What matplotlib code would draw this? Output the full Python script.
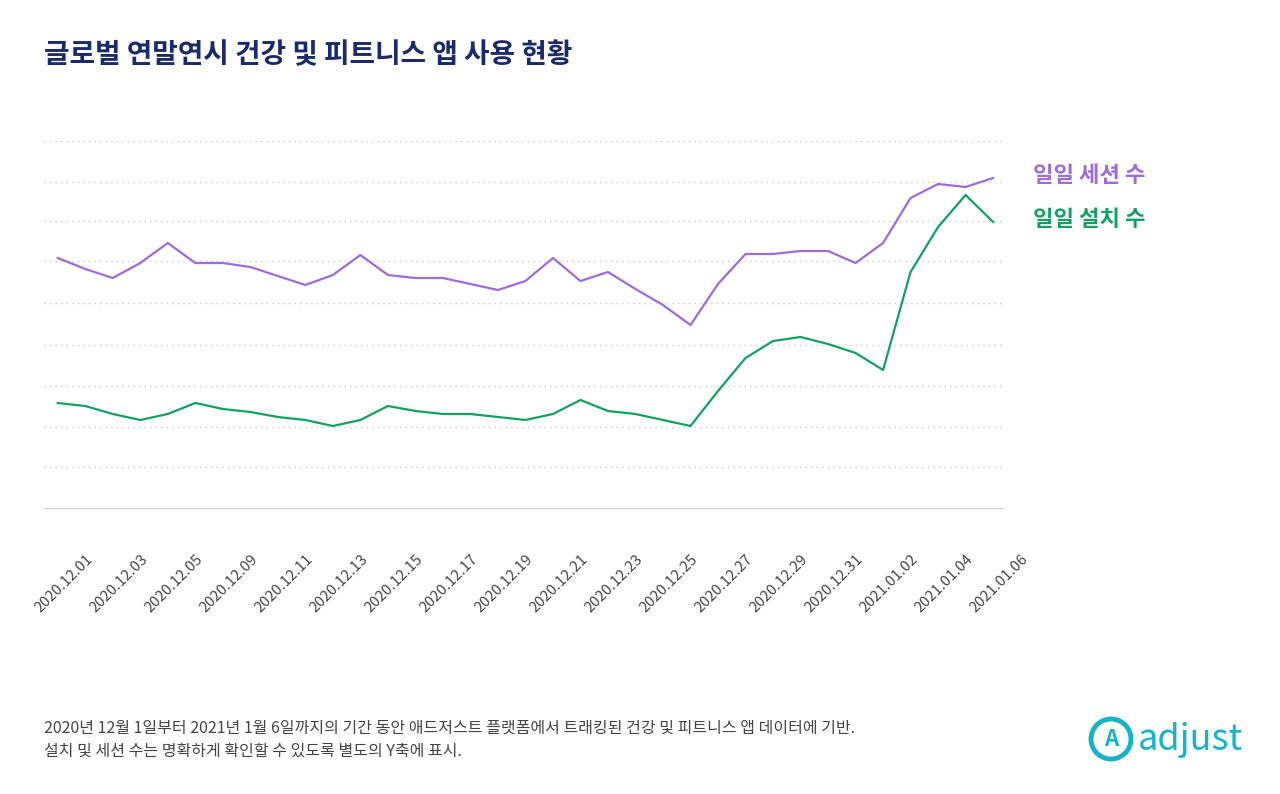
import matplotlib
matplotlib.use("Agg")
import matplotlib.pyplot as plt
import matplotlib.transforms as mtrans
import numpy as np

plt.rcParams['font.family'] = ['Noto Sans CJK KR', 'DejaVu Sans']

tick_labels = ["2020.12.01","2020.12.03","2020.12.05","2020.12.09","2020.12.11","2020.12.13",
               "2020.12.15","2020.12.17","2020.12.19","2020.12.21","2020.12.23","2020.12.25",
               "2020.12.27","2020.12.29","2020.12.31","2021.01.02","2021.01.04","2021.01.06"]
sessions = [250,239,230,245,265,245,245,241,232,223,233,253,233,230,230,224,218,227,250,227,
            236,219,203,183,224,254,254,257,257,245,265,310,324,321,330]
installs = [105,102,94,88,94,105,99,96,91,88,82,88,102,97,94,94,91,88,94,108,97,94,88,82,
            117,150,167,171,164,155,138,236,281,313,286]

fig = plt.figure(figsize=(12.8, 7.94), dpi=100)
ax = fig.add_axes([44/1280, 1-508/794, (1003-44)/1280, (508-141)/794])
x = np.arange(len(sessions))
ax.plot(x, sessions, color='#9B6BE0', lw=1.6)
ax.plot(x, installs, color='#13A065', lw=1.6)
ax.set_xlim(-0.5, 34.36)
ax.set_ylim(0, 367)
ax.set_yticks([41, 81.5, 122, 163, 205, 247, 287, 326, 367])
ax.yaxis.grid(True, color='#cccccc', linestyle=(0, (1, 3)), lw=1)
ax.tick_params(axis='y', left=False, labelleft=False)
ax.set_xticks(x[::2])
ax.set_xticklabels(tick_labels, rotation=45, ha='right', rotation_mode='anchor',
                   fontsize=10.8, color='#444444')
ax.tick_params(axis='x', length=0, pad=32)
off = mtrans.ScaledTranslation(28/100, 0, fig.dpi_scale_trans)
for lab in ax.get_xticklabels():
    lab.set_transform(lab.get_transform() + off)
for s in ['top', 'right', 'left']:
    ax.spines[s].set_visible(False)
ax.spines['bottom'].set_color('#cccccc')

fig.text(44/1280, 1-55/794, "글로벌 연말연시 건강 및 피트니스 앱 사용 현황", fontsize=20,
         color='#1B2A6B', va='center', fontweight='bold')
fig.text(1033/1280, 1-176/794, "일일 세션 수", fontsize=16, color='#9B6BE0', va='center', fontweight='bold')
fig.text(1033/1280, 1-219/794, "일일 설치 수", fontsize=16, color='#13A065', va='center', fontweight='bold')
fig.text(44/1280, 1-728/794, "2020년 12월 1일부터 2021년 1월 6일까지의 기간 동안 애드저스트 플랫폼에서 트래킹된 건강 및 피트니스 앱 데이터에 기반.",
         fontsize=11.5, color='#444444', va='center')
fig.text(44/1280, 1-751/794, "설치 및 세션 수는 명확하게 확인할 수 있도록 별도의 Y축에 표시.",
         fontsize=11.5, color='#444444', va='center')
fig.patches.append(matplotlib.patches.Ellipse((1111/1280, 1-739/794), 40/1280, 40/794, transform=fig.transFigure,
                   fill=False, ec='#17B3C9', lw=3.5, figure=fig))
fig.text(1111/1280, 1-739/794, "A", fontsize=16, color='#17B3C9', ha='center', va='center', fontweight='bold')
fig.text(1138/1280, 1-740/794, "adjust", fontsize=26, color='#17B3C9', va='center')
fig.savefig("out.png", dpi=100)
